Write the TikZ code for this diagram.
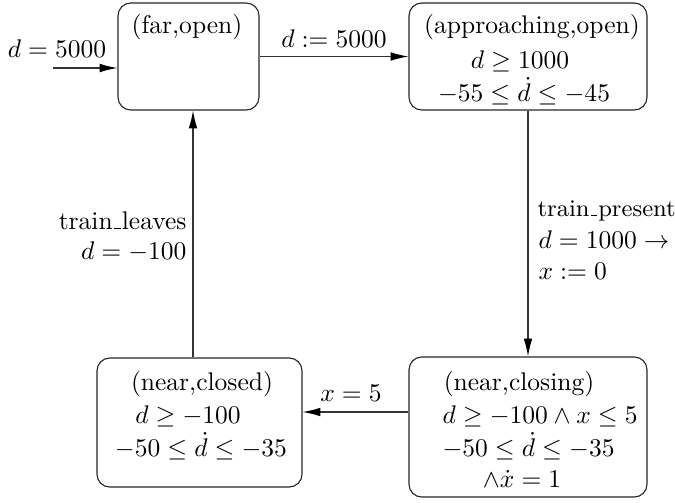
\documentclass[tikz,border=0pt]{standalone}
\usetikzlibrary{arrows.meta}
\newcommand{\usc}{\leavevmode\kern.04em\vbox{\hrule width.28em height 0.5pt}\kern.04em}
\begin{document}
\begin{tikzpicture}[x=0.392pt,y=-0.392pt,
  state/.style={draw=black!85,line width=0.45pt,rounded corners=5pt,rectangle,inner sep=0pt},
  lbl/.style={inner sep=0pt,font=\fontsize{10}{12}\selectfont},
  edge/.style={draw=black!80,line width=0.45pt,-{Latex[length=7pt,width=3.4pt,color=black]}}]
\useasboundingbox (0,0) rectangle (675,502);
% states
\node[state,minimum width=141*0.392pt,minimum height=107*0.392pt] (far) at (188.5,56.5) {};
\node[state,minimum width=238*0.392pt,minimum height=107*0.392pt] (app) at (528,56.5) {};
\node[state,minimum width=238*0.392pt,minimum height=140*0.392pt] (closing) at (528,427) {};
\node[state,minimum width=205*0.392pt,minimum height=129*0.392pt] (closed) at (199.5,422.5) {};
% state texts
\node[lbl,anchor=base] (t1) at (187,33) {(far,open)};
\node[lbl,anchor=base] (t2) at (532,33) {(approaching,open)};
\node[lbl,anchor=base] (t3) at (520,68) {$d\geq 1000$};
\node[lbl,anchor=base] (t4) at (524,101) {$-55\leq \dot d\leq -45$};
\node[lbl,anchor=base] (t5) at (519,390) {(near,closing)};
\node[lbl,anchor=base west] (t6) at (442,423) {$d\geq -100\wedge x\leq 5$};
\node[lbl,anchor=base west] (t7) at (442,456) {$-50\leq \dot d\leq -35$};
\node[lbl,anchor=base] (t8) at (522,487) {$\wedge\dot x=1$};
\node[lbl,anchor=base] (t9) at (202,390) {(near,closed)};
\node[lbl,anchor=base] (t10) at (188,423) {$d\geq -100$};
\node[lbl,anchor=base] (t11) at (201,456) {$-50\leq \dot d\leq -35$};
% connectors
\coordinate (init) at (53,68);
\draw[edge] (init) -- (init -| far.west);
\node[lbl,anchor=base] (l0) at (57,57) {$d=5000$};
\draw[edge] (far) -- (app);
\node[lbl,anchor=base] (l1) at (334,47) {$d:=5000$};
\draw[edge] (app) -- (closing);
\node[lbl,anchor=base west,font=\fontsize{9.4}{11}\selectfont] (l2) at (537,216) {train\usc present};
\node[lbl,anchor=base west] (l3) at (538,248) {$d=1000\rightarrow$};
\node[lbl,anchor=base west] (l4) at (538,279) {$x:=0$};
\coordinate (h) at (0,412);
\draw[edge] (closing.west |- h) -- (closed.east |- h);
\node[lbl,anchor=base] (l5) at (351,401) {$x=5$};
\coordinate (v) at (193,0);
\draw[edge] (closed.north -| v) -- (far.south -| v);
\node[lbl,anchor=base east] (l6) at (187,229) {train\usc leaves};
\node[lbl,anchor=base east] (l7) at (187,259) {$d=-100$};
\end{tikzpicture}
\end{document}
